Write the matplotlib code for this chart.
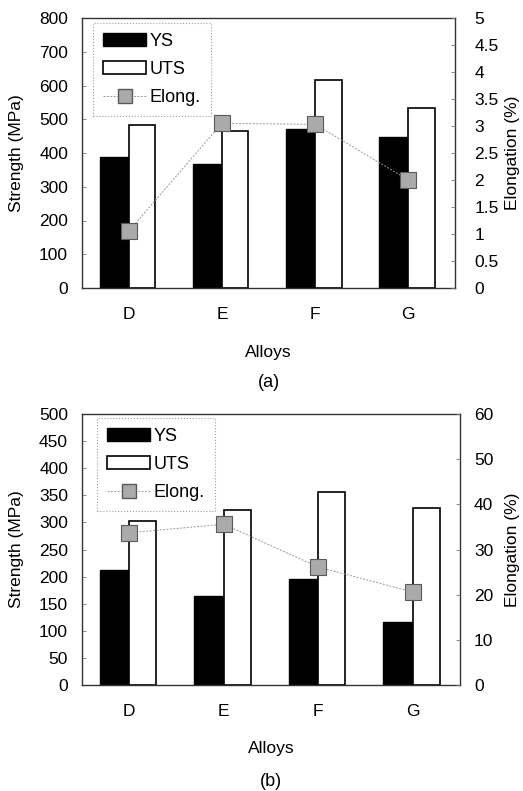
import numpy as np
import matplotlib.pyplot as plt
from matplotlib.lines import Line2D
from matplotlib.patches import Patch

plt.rcParams["font.family"] = ["Liberation Sans", "DejaVu Sans"]
plt.rcParams["font.size"] = 12.5

alloys = ["D", "E", "F", "G"]

# (a)
ys_a = [387, 368, 471, 447]
uts_a = [482, 464, 617, 534]
elong_a = [1.05, 3.05, 3.03, 2.0]

# (b)
ys_b = [212, 165, 196, 117]
uts_b = [302, 323, 357, 326]
elong_b = [33.7, 35.6, 26.1, 20.6]

W, H = 523, 791
fig = plt.figure(figsize=(W / 100, H / 100), dpi=100)


def px_axes(left, top, right, bottom):
    return fig.add_axes([left / W, 1 - bottom / H, (right - left) / W, (bottom - top) / H])


def panel(box, ys, uts, elong, smax, sstep, emax, estep, rpad, leg_xy, label_y, tag, tag_y):
    left, top, right, bottom = box
    ax = px_axes(left, top, right, bottom)
    x = np.arange(len(alloys))
    ax.bar(x - 0.31, ys, width=0.31, align="edge", color="black", edgecolor="black", lw=1.0, zorder=2)
    ax.bar(x, uts, width=0.285, align="edge", color="white", edgecolor="black", lw=1.2, zorder=2)
    ax.set_xlim(-0.5, 3.5)
    ax.set_ylim(0, smax)
    ax.set_yticks(np.arange(0, smax + 1, sstep))
    ax.set_xticks(x)
    ax.set_xticklabels(alloys)
    ax.tick_params(axis="x", length=0, pad=14)
    ax.tick_params(axis="y", direction="in", length=3, width=0.6, color="#777777", pad=10)
    for s in ax.spines.values():
        s.set_linewidth(1.0)
        s.set_color("#333333")

    ax2 = ax.twinx()
    ax2.plot(x, elong, ls=(0, (2, 1.5)), lw=0.7, color="#999999", marker="s",
             ms=11.5, mfc="#aaaaaa", mec="#5a5a5a", mew=0.8, zorder=5)
    ax2.set_ylim(0, emax)
    ticks = np.arange(0, emax + 1e-9, estep)
    ax2.set_yticks(ticks)
    ax2.set_yticklabels(["%g" % t for t in ticks])
    ax2.tick_params(axis="y", direction="in", length=3, width=0.6, color="#777777", pad=rpad)
    for s in ax2.spines.values():
        s.set_visible(False)

    cy = (top + bottom) / 2
    cx = (left + right) / 2
    fig.text(17 / W, 1 - cy / H, "Strength (MPa)", rotation=90, ha="center", va="center")
    fig.text(512 / W, 1 - cy / H, "Elongation (%)", rotation=90, ha="center", va="center")
    fig.text(cx / W, 1 - label_y / H, "Alloys", ha="center", va="center")
    fig.text(cx / W, 1 - tag_y / H, tag, ha="center", va="center", fontsize=13)

    handles = [
        Patch(facecolor="black", edgecolor="black"),
        Patch(facecolor="white", edgecolor="black", lw=1.2),
        Line2D([], [], ls=(0, (2, 1.5)), lw=0.7, color="#999999", marker="s",
               ms=10, mfc="#aaaaaa", mec="#5a5a5a"),
    ]
    leg = ax2.legend(handles, ["YS", "UTS", "Elong."], loc="upper left",
                     bbox_to_anchor=(leg_xy[0] / W, 1 - leg_xy[1] / H),
                     bbox_transform=fig.transFigure, fontsize=13,
                     frameon=True, fancybox=False, handlelength=2.4,
                     handleheight=0.75, handletextpad=0.2, labelspacing=0.62,
                     borderpad=0.55, borderaxespad=0)
    fr = leg.get_frame()
    fr.set_edgecolor("#888888")
    fr.set_facecolor("none")
    fr.set_linestyle(":")
    fr.set_linewidth(0.8)
    return ax, ax2


panel((82, 18, 455, 288), ys_a, uts_a, elong_a, 800, 100, 5, 0.5, 14,
      (93, 23), 352, "(a)", 382)
panel((82, 414, 460, 685), ys_b, uts_b, elong_b, 500, 50, 60, 10, 10,
      (97, 418), 748, "(b)", 782)

fig.savefig("out.png", dpi=100)
